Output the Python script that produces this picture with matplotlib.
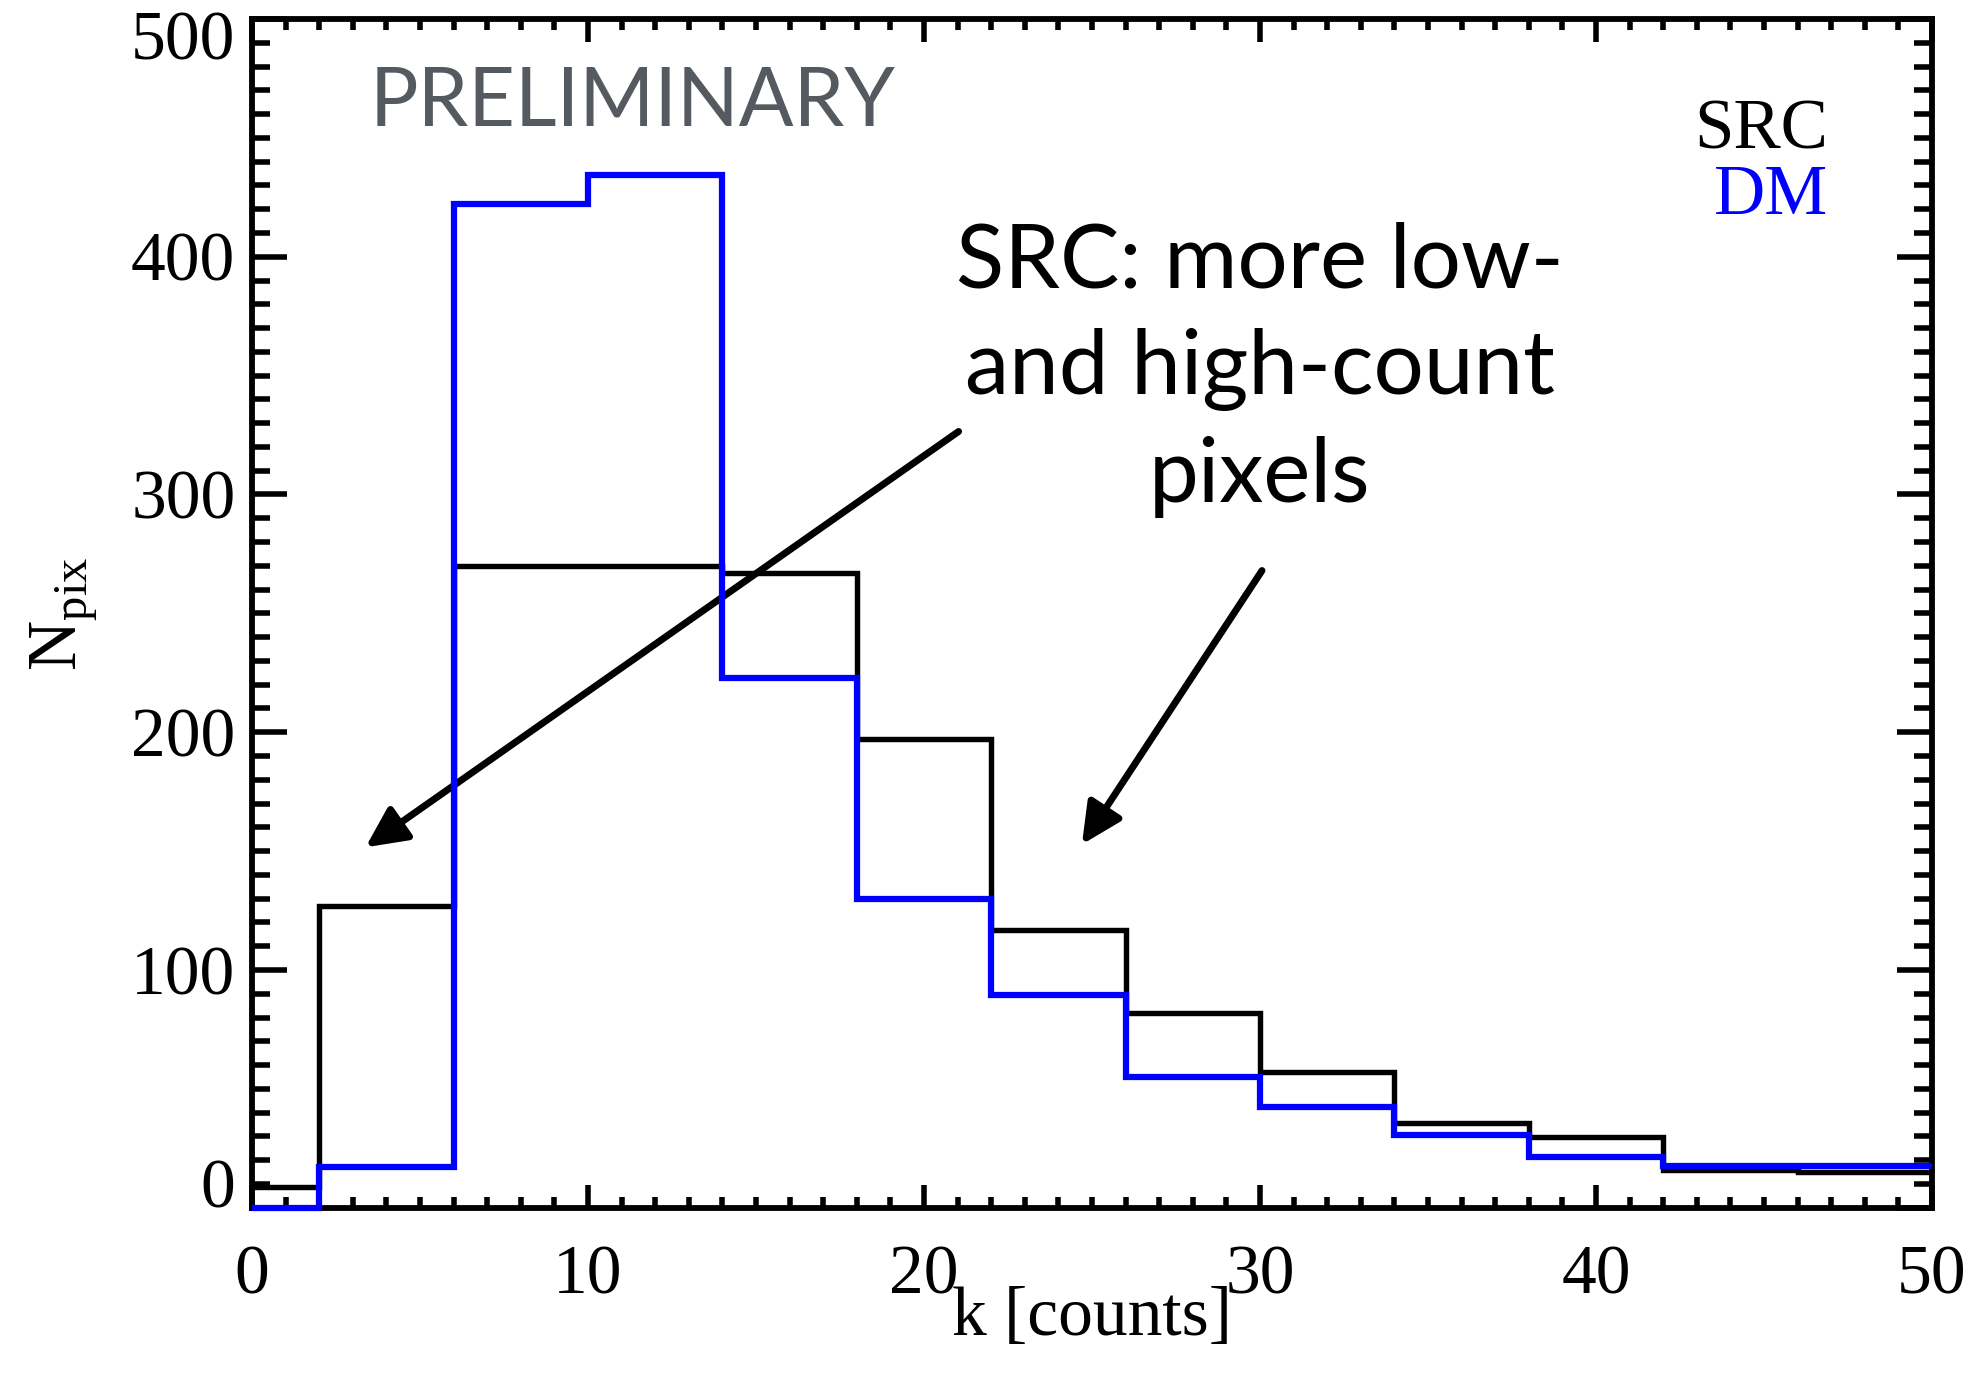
import matplotlib
matplotlib.use('Agg')
import matplotlib.pyplot as plt
from matplotlib.transforms import ScaledTranslation
import numpy as np

# ---- data ----
bin_edges = [0, 2, 6, 10, 14, 18, 22, 26, 30, 34, 38, 42, 46, 50]
src_counts = [8.8, 127, 270, 270, 267, 197, 117, 82, 57, 35.5, 29.6, 16, 15.2]
dm_counts = [0, 17, 422, 434.5, 223, 130, 89.6, 55, 42.5, 30.6, 21.4, 17.5, 17.5]
series_names = ["SRC", "DM"]
x_ticks = [0, 10, 20, 30, 40, 50]
y_ticks = [0, 100, 200, 300, 400, 500]
annotation = "SRC: more low-\nand high-count\npixels"
watermark = "PRELIMINARY"

serif = ["Liberation Serif", "DejaVu Serif"]
sans = ["Lato", "DejaVu Sans"]
plt.rcParams['mathtext.fontset'] = 'custom'
plt.rcParams['mathtext.rm'] = 'Liberation Serif'

fig = plt.figure(figsize=(19.78, 13.86), dpi=100)
ax = fig.add_axes([252/1978, (1386-1207.7)/1386, 1680/1978, 1188.7/1386])

ax.stairs(src_counts, bin_edges, baseline=None, color='black', lw=3.9, zorder=3, clip_on=False)
ax.stairs(dm_counts, bin_edges, baseline=None, color='#0000ff', lw=4.5, zorder=4, clip_on=False)

ax.set_xlim(0, 50)
ax.set_ylim(0, 500)
ax.set_xticks(x_ticks)
ax.set_xticks(np.arange(0, 51, 1), minor=True)
ax.set_yticks(y_ticks)
ax.set_yticks(np.arange(0, 501, 10), minor=True)
ax.set_xticklabels([str(v) for v in x_ticks], fontfamily=serif, fontsize=50)
ax.set_yticklabels([str(v) for v in y_ticks], fontfamily=serif, fontsize=50)

ax.tick_params(axis='both', which='both', direction='in', top=True, right=True, width=4.0, color='black')
ax.tick_params(axis='x', which='major', length=16.5, pad=27)
ax.tick_params(axis='x', which='minor', length=8)
ax.tick_params(axis='y', which='major', length=25, pad=12)
ax.tick_params(axis='y', which='minor', length=13)
for s in ax.spines.values():
    s.set_linewidth(4.2)

ax.set_xlabel("k [counts]", fontfamily=serif, fontsize=50)
ax.xaxis.set_label_coords(0.5, -0.093)
ax.xaxis.label.set_va('center')
ax.set_ylabel(r"N$_{\mathregular{pix}}$", fontfamily=serif, fontsize=50)
ax.yaxis.set_label_coords(-0.091, 0.5)

# legend as coloured text
ax.text(46.9, 453, series_names[0], color='black', fontfamily=serif, fontsize=51,
        ha='right', va='center')
ax.text(46.9, 425.5, series_names[1], color='#0000ff', fontfamily=serif, fontsize=51,
        ha='right', va='center')

# watermark
ax.text(3.5, 464.5, watermark, color='#555a60', fontfamily=sans, fontsize=58.3,
        ha='left', va='center')

# annotation
ax.text(30.0, 352.5, annotation, color='black', fontfamily=sans, fontsize=64,
        ha='center', va='center', linespacing=1.38, multialignment='center')

arrow_kw = dict(arrowstyle='-|>,head_length=0.82,head_width=0.4', lw=5, color='black',
                mutation_scale=30, shrinkA=0, shrinkB=0)
ax.annotate('', xy=(3.38, 151.6), xytext=(21.03, 326.5), arrowprops=arrow_kw)
ax.annotate('', xy=(24.7, 152.8), xytext=(30.06, 268), arrowprops=arrow_kw)

fig.canvas.draw()
yt = ax.yaxis.get_major_ticks()
yt[0].label1.set_va('baseline')
top_lab = yt[-1].label1
top_lab.set_va('top')
top_lab.set_transform(top_lab.get_transform() + ScaledTranslation(0, 5.4/72, fig.dpi_scale_trans))

fig.savefig('out.png', dpi=100, facecolor='white')
